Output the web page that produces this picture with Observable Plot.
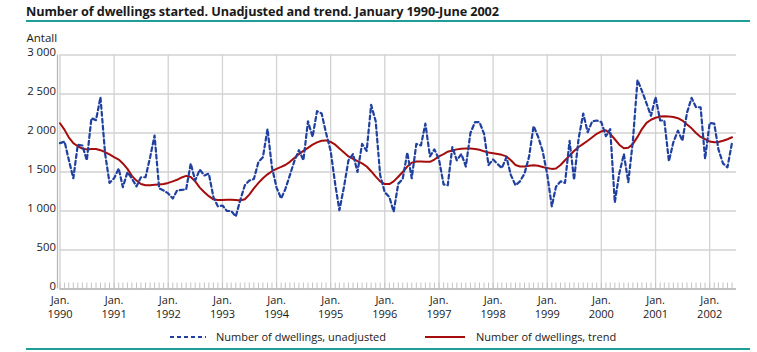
<!DOCTYPE html>
<html><head><meta charset="utf-8">
<script src="https://cdn.jsdelivr.net/npm/d3@7"></script>
<script src="https://cdn.jsdelivr.net/npm/@observablehq/plot@0.6"></script>
<style>
html,body{margin:0;padding:0;background:#fff;}
#wrap{position:relative;width:757px;height:352px;overflow:hidden;font-family:"Open Sans",sans-serif;color:#1a1a1a;}
#title{position:absolute;left:26px;top:2px;font-weight:bold;font-size:12.7px;white-space:nowrap;letter-spacing:-0.1px;}
#rule1{position:absolute;left:26px;width:724px;top:20px;height:1.6px;background:#1f9e98;}
#chart{position:absolute;left:0;top:22px;}
#legend{position:absolute;left:0;top:328px;width:757px;height:18px;font-size:11px;}
.item{position:absolute;top:0;height:18px;line-height:18px;white-space:nowrap;}
#rule2{position:absolute;left:26px;width:724px;top:348px;height:1.6px;background:#1f9e98;}
</style></head>
<body><div id="wrap">
<div id="title">Number of dwellings started. Unadjusted and trend. January 1990-June 2002</div>
<div id="rule1"></div>
<div id="chart"></div>
<div id="legend">
  <svg class="item" style="left:170px" width="36" height="18"><line x1="0" x2="36" y1="9" y2="9" stroke="#2040a0" stroke-width="2.2" stroke-dasharray="4,3"/></svg>
  <span class="item" style="left:216px">Number of dwellings, unadjusted</span>
  <svg class="item" style="left:425px" width="40" height="18"><line x1="0" x2="40" y1="9" y2="9" stroke="#a50d0d" stroke-width="2"/></svg>
  <span class="item" style="left:476px">Number of dwellings, trend</span>
</div>
<div id="rule2"></div>
</div>
<script>
// Monthly values, Jan 1990 - Jun 2002
const unadjusted = [
  1870, 1890, 1660, 1420, 1850, 1840, 1650, 2190, 2165, 2460, 1740, 1360, // 1990
  1420, 1545, 1306, 1497, 1417, 1315, 1433, 1433, 1689, 1967, 1289, 1263, // 1991
  1225, 1160, 1263, 1270, 1276, 1609, 1391, 1532, 1455, 1480, 1178, 1059, // 1992
  1070, 1000, 1000, 930, 1140, 1330, 1390, 1410, 1630, 1690, 2050, 1560,  // 1993
  1300, 1160, 1280, 1460, 1640, 1780, 1650, 2150, 1950, 2280, 2250, 2000, // 1994
  1770, 1340, 1010, 1310, 1650, 1730, 1500, 1860, 1770, 2360, 2150, 1460, // 1995
  1240, 1180, 990, 1350, 1410, 1750, 1420, 1860, 1840, 2120, 1700, 1790,  // 1996
  1660, 1340, 1330, 1820, 1650, 1730, 1570, 2000, 2140, 2140, 1990, 1590, // 1997
  1660, 1600, 1550, 1690, 1460, 1330, 1380, 1480, 1700, 2090, 1950, 1770, // 1998
  1470, 1060, 1310, 1380, 1360, 1900, 1400, 1930, 2250, 2010, 2150, 2160, // 1999
  2140, 1960, 2050, 1110, 1480, 1730, 1370, 1900, 2680, 2540, 2380, 2220, // 2000
  2460, 2160, 2160, 1640, 1880, 2030, 1900, 2260, 2450, 2330, 2330, 1670, // 2001
  2130, 2120, 1790, 1610, 1560, 1880                                      // 2002
];
const trend = [
  2125, 2040, 1945, 1870, 1830, 1800, 1790, 1795, 1795, 1780, 1755, 1725, // 1990
  1690, 1660, 1610, 1540, 1450, 1390, 1345, 1330, 1330, 1335, 1340, 1345, // 1991
  1360, 1380, 1400, 1430, 1450, 1435, 1380, 1300, 1240, 1190, 1150, 1140, // 1992
  1140, 1145, 1145, 1140, 1135, 1150, 1210, 1290, 1360, 1420, 1470, 1510, // 1993
  1540, 1565, 1590, 1630, 1680, 1730, 1770, 1810, 1850, 1880, 1900, 1905, // 1994
  1885, 1850, 1800, 1750, 1700, 1670, 1640, 1610, 1570, 1510, 1440, 1380, // 1995
  1345, 1345, 1380, 1440, 1500, 1570, 1620, 1635, 1635, 1630, 1630, 1660, // 1996
  1700, 1730, 1760, 1775, 1790, 1797, 1800, 1800, 1795, 1785, 1765, 1750, // 1997
  1740, 1730, 1720, 1700, 1650, 1590, 1570, 1570, 1580, 1585, 1580, 1565, // 1998
  1550, 1540, 1545, 1590, 1650, 1710, 1770, 1820, 1860, 1900, 1945, 1990, // 1999
  2020, 2035, 1990, 1920, 1850, 1805, 1810, 1860, 1950, 2050, 2130, 2170, // 2000
  2195, 2210, 2215, 2210, 2205, 2190, 2160, 2110, 2060, 2000, 1950, 1920, // 2001
  1890, 1880, 1885, 1900, 1920, 1945                                      // 2002
];
const yTicks = [0, 500, 1000, 1500, 2000, 2500, 3000];
const startDate = new Date(Date.UTC(1990, 0, 1));
const endDate = new Date(Date.UTC(2002, 6, 1));
const months = d3.utcMonths(startDate, endDate);
const years = d3.utcYears(startDate, new Date(Date.UTC(2002, 1, 1)));
const data = months.map((d, i) => ({date: d, unadj: unadjusted[i], trend: trend[i]}));

const fmtY = d => d3.format(",")(d).replace(/,/g, " ");

const chart = Plot.plot({
  width: 757, height: 300,
  marginLeft: 59.5, marginRight: 21, marginTop: 32.5, marginBottom: 33.5,
  style: {fontFamily: "Open Sans, sans-serif", fontSize: "11px", color: "#1a1a1a", background: "white", overflow: "visible"},
  x: {type: "utc", domain: [startDate, endDate], label: null},
  y: {domain: [0, 3000], label: null},
  marks: [
    Plot.gridY(yTicks, {stroke: "#d2d2d2", strokeOpacity: 1, strokeWidth: 1.3}),
    Plot.gridX(years, {stroke: "#d2d2d2", strokeOpacity: 1, strokeWidth: 1.3}),
    Plot.axisX(months, {tickSize: 6, dy: -6, tickFormat: () => "", stroke: "#c4c4c4"}),
    Plot.ruleY([0], {stroke: "#b8b8b8", strokeWidth: 1.3}),
    Plot.ruleX([startDate], {dx: -2.5, stroke: "#b8b8b8", strokeWidth: 1.3}),
    Plot.axisY(yTicks, {tickSize: 0, tickPadding: 4, tickFormat: fmtY, fontSize: 11.3, dy: -2.5}),
    Plot.axisX(years, {tickSize: 0, tickPadding: 5, tickFormat: d => "Jan.\n" + d.getUTCFullYear(), lineHeight: 1.27, fontSize: 11}),
    Plot.line(data, {x: "date", y: "trend", stroke: "#a50d0d", strokeWidth: 2}),
    Plot.line(data, {x: "date", y: "unadj", stroke: "#2040a0", strokeWidth: 2.2, strokeDasharray: "4,3"}),
    Plot.text(["Antall"], {frameAnchor: "top-left", lineAnchor: "middle", dx: -33.5, dy: -17, textAnchor: "start", fontSize: 11.5})
  ]
});
document.getElementById("chart").appendChild(chart);
</script>
</body></html>
